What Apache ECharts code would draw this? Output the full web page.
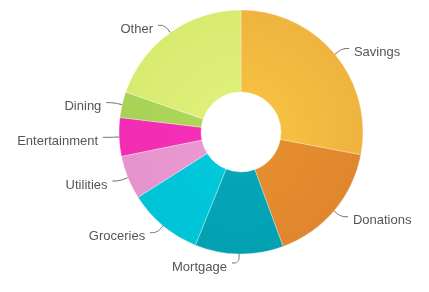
<!DOCTYPE html>
<html><head><meta charset="utf-8">
<script src="https://cdn.jsdelivr.net/npm/echarts@6/dist/echarts.min.js"></script>
<style>html,body{margin:0;padding:0;background:#fff}#c{width:429px;height:292px}</style>
</head><body><div id="c"></div>
<script>
const categories = ['Savings','Donations','Mortgage','Groceries','Utilities','Entertainment','Dining','Other'];
const values = [28, 16.4, 11.7, 9.9, 5.8, 5.1, 3.4, 19.7];
const innerColors = ['#f9c642','#e8922f','#05a8ba','#02cbde','#eb9bd4','#f730b8','#afd85c','#e2f27e'];
const outerColors = ['#eeb43e','#e0862e','#03a0b2','#00c3d6','#e593cd','#f22db1','#a8d256','#d8ea70'];
const cx = 241, cy = 132, r0 = 40, r1 = 122;
const data = categories.map((n,i)=>({
  name:n, value:values[i],
  itemStyle:{color:{type:'radial',x:cx,y:cy,r:r1,global:true,
    colorStops:[{offset:0,color:innerColors[i]},{offset:1,color:outerColors[i]}]}}
}));
const chart = echarts.init(document.getElementById('c'));
chart.setOption({
  animation:false,
  series:[{
    type:'pie', center:[cx,cy], radius:[r0,r1], startAngle:90, clockwise:true,
    data,
    itemStyle:{borderColor:'rgba(255,255,255,0.6)',borderWidth:0.5},
    label:{color:'#555',fontSize:13,fontFamily:'Liberation Sans, Arial, sans-serif',
      formatter:'{s|}\n{t|{b}}',
      rich:{s:{lineHeight:8,fontSize:1},t:{color:'#555',fontSize:13,lineHeight:15,fontFamily:'Liberation Sans, Arial, sans-serif'}}},
    labelLine:{length:9,length2:7,smooth:0.4,lineStyle:{color:'#666',width:1}}
  }]
});
</script></body></html>
